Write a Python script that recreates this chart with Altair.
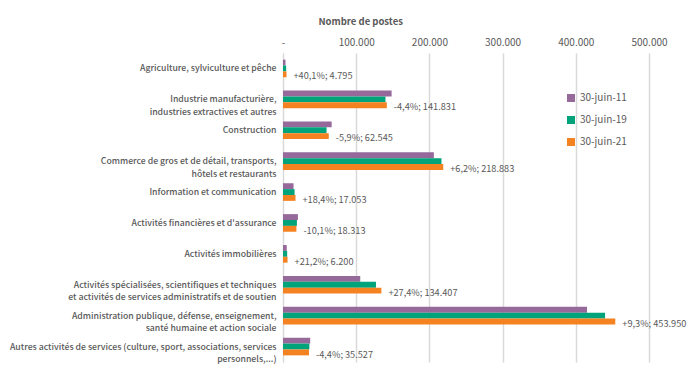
import altair as alt
import pandas as pd

categories = [
    "Agriculture, sylviculture et pêche",
    "Industrie manufacturière,|industries extractives et autres",
    "Construction",
    "Commerce de gros et de détail, transports,|hôtels et restaurants",
    "Information et communication",
    "Activités financières et d'assurance",
    "Activités immobilières",
    "Activités spécialisées, scientifiques et techniques|et activités de services administratifs et de soutien",
    "Administration publique, défense, enseignement,|santé humaine et action sociale",
    "Autres activités  de services (culture, sport, associations, services|personnels,...)",
]
series = ["30-juin-11", "30-juin-19", "30-juin-21"]
v2011 = [3420, 148360, 66470, 206100, 14400, 20370, 5120, 105500, 415300, 37160]
v2019 = [4300, 140000, 59500, 216500, 15800, 19000, 5700, 127000, 440000, 36000]
v2021 = [4795, 141831, 62545, 218883, 17053, 18313, 6200, 134407, 453950, 35527]
labels = ["+40,1%; 4.795", "-4,4%; 141.831", "-5,9%; 62.545", "+6,2%; 218.883",
          "+18,4%; 17.053", "-10,1%; 18.313", "+21,2%; 6.200", "+27,4%; 134.407",
          "+9,3%; 453.950", "-4,4%; 35.527"]
colors = ["#95699A", "#00A37A", "#F58220"]

rows = []
for i, c in enumerate(categories):
    for s, vals in zip(series, [v2011, v2019, v2021]):
        rows.append({"cat": c, "series": s, "value": vals[i]})
df = pd.DataFrame(rows)
lab = pd.DataFrame({"cat": categories, "value": v2021, "label": labels})

FONT = "Noto Sans CJK SC"
GRAY = "#595959"

yscale = alt.Scale(domain=categories, paddingInner=0.43, paddingOuter=0.215)
xscale = alt.Scale(domain=[0, 500000], nice=False)

bars = alt.Chart(df).mark_bar().encode(
    y=alt.Y("cat:N", scale=yscale, sort=categories,
            axis=alt.Axis(title=None, labelExpr="split(datum.label, '|')",
                          labelFont=FONT, labelFontSize=8.7, labelColor=GRAY,
                          labelFontWeight=500, labelLimit=300, labelPadding=7,
                          labelLineHeight=12.5,
                          ticks=False, domain=True, domainColor="#d9d9d9", grid=False)),
    x=alt.X("value:Q", scale=xscale,
            axis=alt.Axis(orient="top", title="Nombre de postes", titleFont=FONT,
                          titleFontSize=9.5, titleFontWeight="bold", titleColor=GRAY,
                          titleAnchor="start",
                          titleX=35, titleY=-32, titleBaseline="middle",
                          values=[0, 100000, 200000, 300000, 400000, 500000],
                          labelExpr="datum.value == 0 ? '-' : replace(format(datum.value, ','), ',', '.')",
                          labelFont=FONT, labelFontSize=10, labelColor=GRAY,
                          labelFlush=False, labelOverlap=False,
                          labelPadding=6, ticks=False, domain=False,
                          grid=True, gridColor="#d9d9d9", gridWidth=1.5)),
    yOffset=alt.YOffset("series:N", sort=series, scale=alt.Scale(paddingInner=0, paddingOuter=0)),
    color=alt.Color("series:N", sort=series,
                    scale=alt.Scale(domain=series, range=colors),
                    legend=alt.Legend(title=None, orient="none", legendX=283, legendY=40,
                                      symbolType="square", symbolSize=64,
                                      labelFont=FONT, labelFontSize=10, labelColor=GRAY,
                                      rowPadding=12)),
)

text = alt.Chart(lab).mark_text(align="left", baseline="middle", dx=7, dy=8,
                                font=FONT, fontSize=9.2, color=GRAY).encode(
    y=alt.Y("cat:N", scale=yscale, sort=categories),
    x=alt.X("value:Q", scale=xscale),
    text="label:N",
)

chart = alt.layer(bars, text).properties(
    width=366, height=309,
    autosize=alt.AutoSizeParams(type="none"),
    padding={"left": 275, "top": 45, "right": 43, "bottom": 10},
).configure_view(stroke=None)

chart.save("out.html", embed_options={"renderer": "svg", "actions": False})
